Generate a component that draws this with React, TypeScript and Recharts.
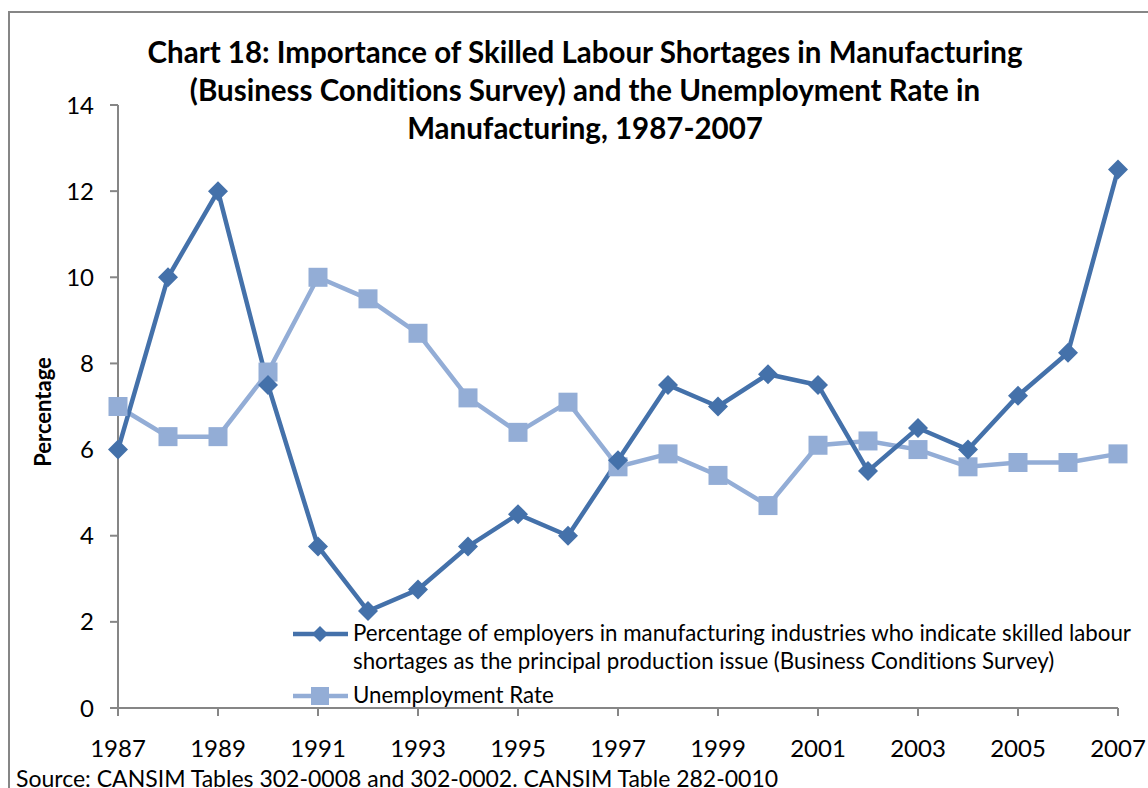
import React from "react";
import { Line, LineChart, XAxis, YAxis } from "recharts";

const years = [
  1987, 1988, 1989, 1990, 1991, 1992, 1993, 1994, 1995, 1996, 1997, 1998, 1999, 2000, 2001, 2002, 2003,
  2004, 2005, 2006, 2007,
];
const skilledShortage = [
  6, 10, 12, 7.5, 3.75, 2.25, 2.75, 3.75, 4.5, 4, 5.75, 7.5, 7, 7.75, 7.5, 5.5, 6.5, 6, 7.25, 8.25, 12.5,
];
const unemploymentRate = [
  7, 6.3, 6.3, 7.8, 10, 9.5, 8.7, 7.2, 6.4, 7.1, 5.6, 5.9, 5.4, 4.7, 6.1, 6.2, 6, 5.6, 5.7, 5.7, 5.9,
];
const xTicks = [1987, 1989, 1991, 1993, 1995, 1997, 1999, 2001, 2003, 2005, 2007];
const yTicks = [0, 2, 4, 6, 8, 10, 12, 14];

const titleLines = [
  "Chart 18: Importance of Skilled Labour Shortages in Manufacturing",
  "(Business Conditions Survey) and the Unemployment Rate in",
  "Manufacturing, 1987-2007",
];
const shortageLabel = [
  "Percentage of employers in manufacturing industries who indicate skilled labour",
  "shortages as the principal production issue (Business Conditions Survey)",
];
const unemploymentLabel = "Unemployment Rate";
const sourceNote = "Source: CANSIM Tables 302-0008 and 302-0002. CANSIM Table 282-0010";

const data = years.map((year, i) => ({
  year,
  shortage: skilledShortage[i],
  unemployment: unemploymentRate[i],
}));

const DARK = "#4471AA";
const LIGHT = "#93ADD6";
const AXIS = "#868686";
const FONT = "Lato, 'Open Sans', sans-serif";

const Diamond = (props: any) => {
  const { cx, cy, index } = props;
  if (cx == null || cy == null) return null;
  return <path key={index} d={`M${cx},${cy - 10}L${cx + 10},${cy}L${cx},${cy + 10}L${cx - 10},${cy}Z`} fill={DARK} />;
};

const Square = (props: any) => {
  const { cx, cy, index } = props;
  if (cx == null || cy == null) return null;
  return <rect key={index} x={cx - 9.5} y={cy - 9.5} width={19} height={19} fill={LIGHT} />;
};

export default function App() {
  return (
    <div
      style={{
        position: "fixed",
        left: 0,
        top: 0,
        width: 1148,
        height: 788,
        overflow: "hidden",
        background: "#fff",
        fontFamily: FONT,
        fontVariantLigatures: "none",
      }}
    >
      <div
        style={{
          position: "absolute",
          left: 8,
          top: 11,
          width: 1300,
          height: 900,
          border: `2px solid ${AXIS}`,
        }}
      />
      <div
        style={{
          position: "absolute",
          left: 85,
          top: 33,
          width: 1000,
          textAlign: "center",
          fontWeight: "bold",
          fontSize: 29.5,
          lineHeight: "38px",
          color: "#000",
        }}
      >
        {titleLines.map((t) => (
          <div key={t}>{t}</div>
        ))}
      </div>
      <div
        style={{
          position: "absolute",
          left: 42,
          top: 412,
          transform: "translate(-50%, -50%) rotate(-90deg)",
          fontWeight: "bold",
          fontSize: 22,
          whiteSpace: "nowrap",
        }}
      >
        Percentage
      </div>
      <LineChart
        width={1148}
        height={788}
        data={data}
        margin={{ top: 105, right: 30, bottom: 30, left: 58 }}
        style={{ position: "absolute", left: 0, top: 0 }}
      >
        <XAxis
          dataKey="year"
          type="number"
          domain={[1987, 2007]}
          ticks={xTicks}
          height={50}
          stroke={AXIS}
          strokeWidth={2}
          tickSize={8}
          tickMargin={24}
          tick={{ fill: "#000", fontSize: 24, fontFamily: FONT }}
          interval={0}
        />
        <YAxis
          domain={[0, 14]}
          ticks={yTicks}
          width={60}
          stroke={AXIS}
          strokeWidth={2}
          tickSize={8}
          tickMargin={16}
          tick={{ fill: "#000", fontSize: 24, fontFamily: FONT }}
          interval={0}
        />
        <Line
          dataKey="unemployment"
          stroke={LIGHT}
          strokeWidth={4.5}
          dot={Square}
          activeDot={false}
          isAnimationActive={false}
        />
        <Line
          dataKey="shortage"
          stroke={DARK}
          strokeWidth={4.5}
          dot={Diamond}
          activeDot={false}
          isAnimationActive={false}
        />
      </LineChart>
      <svg style={{ position: "absolute", left: 290, top: 618 }} width={64} height={90}>
        <line x1={3} y1={16} x2={58} y2={16} stroke={DARK} strokeWidth={4.5} />
        <path d="M30,8L38,16L30,24L22,16Z" fill={DARK} />
        <line x1={3} y1={78} x2={58} y2={78} stroke={LIGHT} strokeWidth={4.5} />
        <rect x={21} y={69} width={18} height={18} fill={LIGHT} />
      </svg>
      <div
        style={{
          position: "absolute",
          left: 353,
          top: 619,
          fontSize: 22.3,
          lineHeight: "28px",
          color: "#000",
          whiteSpace: "nowrap",
        }}
      >
        <div>{shortageLabel[0]}</div>
        <div>{shortageLabel[1]}</div>
        <div style={{ marginTop: 6 }}>{unemploymentLabel}</div>
      </div>
      <div
        style={{
          position: "absolute",
          left: 16,
          top: 764,
          fontSize: 23,
          lineHeight: "28px",
          color: "#000",
          whiteSpace: "nowrap",
        }}
      >
        {sourceNote}
      </div>
    </div>
  );
}
